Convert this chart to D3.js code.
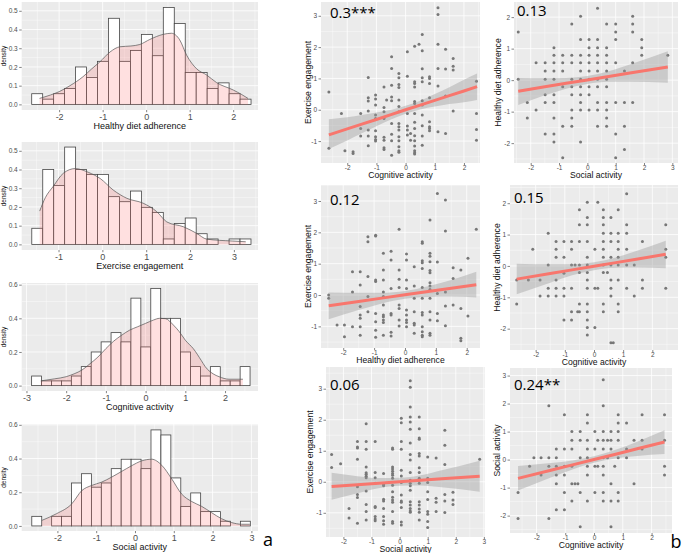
<!DOCTYPE html>
<html>
<head>
<meta charset="utf-8">
<script src="https://cdn.jsdelivr.net/npm/d3@7"></script>
<style>
body{margin:0;background:#fff}
text{font-family:"Liberation Sans",Arial,sans-serif}
</style>
</head>
<body>
<svg id="chart" width="685" height="553"></svg>
<script>
// ---------- histogram data (density per bin) ----------
var dietStart = -2.63, dietWidth = 0.252;
var dietDens = [0.057,0.028,0.057,0.085,0.20,0.144,0.23,0.46,0.23,0.288,0.374,0.26,0.518,0.432,0.17,0.17,0.085,0.115,0.057,0.028];
var dietCurve = [[-2.45,0.032],[-2.2,0.05],[-2.0,0.068],[-1.75,0.1],[-1.45,0.148],[-1.25,0.19],[-1.06,0.228],[-0.83,0.28],[-0.6,0.308],[-0.35,0.312],[-0.145,0.32],[0.085,0.347],[0.39,0.374],[0.58,0.38],[0.77,0.345],[0.93,0.263],[1.16,0.19],[1.39,0.157],[1.62,0.116],[2.0,0.077],[2.2,0.052],[2.34,0.032]];

var exeStart = -1.61, exeWidth = 0.25;
var exeDens = [0.086,0.40,0.314,0.52,0.40,0.374,0.374,0.255,0.228,0.285,0.198,0.171,0.029,0.112,0.141,0.057,0.029,0,0.029,0.029];
var exeCurve = [[-1.43,0.178],[-1.3,0.25],[-1.12,0.31],[-0.89,0.38],[-0.62,0.405],[-0.32,0.385],[-0.05,0.352],[0.25,0.29],[0.56,0.246],[0.93,0.22],[1.24,0.175],[1.47,0.12],[1.85,0.094],[2.15,0.059],[2.38,0.028],[2.96,0.018],[3.27,0.014]];

var cogStart = -2.87, cogWidth = 0.25;
var cogDens = [0.057,0.028,0.028,0.028,0.057,0.113,0.2,0.26,0.315,0.26,0.52,0.23,0.578,0.40,0.40,0.2,0.113,0.057,0.113,0.028,0.028,0.113];
var cogCurve = [[-2.64,0.028],[-2.3,0.04],[-2.0,0.053],[-1.8,0.07],[-1.6,0.093],[-1.4,0.13],[-1.2,0.17],[-1.0,0.22],[-0.8,0.265],[-0.6,0.3],[-0.4,0.33],[-0.2,0.35],[0.0,0.37],[0.2,0.39],[0.35,0.40],[0.5,0.398],[0.7,0.36],[0.85,0.32],[1.0,0.27],[1.2,0.22],[1.4,0.15],[1.5,0.113],[1.7,0.07],[1.85,0.053],[2.1,0.038],[2.45,0.038]];

var socStart = -2.66, socWidth = 0.256;
var socDens = [0.057,0,0.057,0.057,0.255,0.31,0.23,0.255,0.34,0.396,0.396,0.34,0.57,0.54,0.285,0.116,0.196,0.085,0.085,0.028,0,0.028];
var socCurve = [[-2.4,0.033],[-2.02,0.073],[-1.63,0.131],[-1.37,0.21],[-1.12,0.24],[-0.86,0.26],[-0.6,0.29],[-0.34,0.324],[-0.09,0.357],[0.17,0.386],[0.43,0.396],[0.69,0.36],[0.95,0.278],[1.2,0.19],[1.46,0.145],[1.72,0.116],[1.98,0.078],[2.23,0.043],[2.49,0.02],[2.75,0.01],[2.96,0.01]];

// ---------- scatter data: [x, [y values at that x]] ----------
var cogExe = [
  [-2.63,[0.57,-1.23]],[-2.2,[-0.12]],[-2.08,[-1.31]],[-1.8,[-1.34,-1.4]],
  [-1.54,[-0.12,-0.6,-0.84]],
  [-1.28,[1.03,0.38,0.28,-0.04,-0.65,-0.84,-1.15]],
  [-1.03,[0.47,0.34,0.15,-0.17,-0.28,-0.67,-0.86,-0.95,-1.0]],
  [-0.74,[0.73,0.07,-0.06,-0.28,-0.88,-0.97,-1.21,-1.27]],
  [-0.65,[0.31]],
  [-0.48,[1.69,1.32,0.78,0.41,0.29,-0.44,-0.78,-0.99,-1.45]],
  [-0.23,[1.16,1.02,0.81,0.71,0.31,0.1,-0.06,-0.44,-0.54,-0.65,-0.86,-0.99,-1.18,-1.31,-1.36]],
  [0.06,[1.85,1.07,-0.12,-0.52,-0.65,-0.81]],
  [0.17,[-0.76,-0.97]],
  [0.31,[2.03,0.89,0.84,0.73,0.26,0.2,-0.12,-0.4,-0.6,-0.83,-0.99,-1.16,-1.31,-1.37,-1.41]],
  [0.46,[2.09]],
  [0.57,[2.4,1.88,1.31,1.02,0.89,0.29,0.15,-0.17,-0.51,-0.84,-1.13]],
  [0.82,[1.05,1.0,0.84,0.38,-0.38,-0.54,-0.6,-0.67]],
  [1.11,[3.26,3.04,2.09,1.32,0.76,-0.7]],
  [1.37,[1.93,1.3,0.44,-0.76]],
  [1.63,[1.64,1.39,1.27,-0.04]],
  [2.43,[0.91,-0.12,-0.63,-0.97]]
];
var socDiet = [
  [-2.44,[1.53,0.03]],[-2.12,[-0.71,-1.2]],[-1.81,[0.55,-0.95]],
  [-1.49,[0.55,0.29,0.03,-0.46,-0.71,-1.71]],
  [-1.18,[1.03,0.79,0.55,0.29,0.03,-0.46,-0.71,-1.2,-1.71,-1.96]],
  [-0.87,[0.79,0.55,0.29,-0.21,-1.46,-2.46]],
  [-0.55,[1.78,0.79,0.55,0.03,-0.21,-0.46,-0.95,-1.2,-1.46]],
  [-0.24,[2.03,1.29,0.79,0.55,0.29,0.03,-0.21,-0.46,-0.71,-0.95,-1.96]],
  [0.06,[1.29,1.03,0.79,0.55,0.29,0.03,-0.21,-0.46,-0.95]],
  [0.36,[2.28,1.29,1.03,0.79,0.55,0.29,0.03,-0.21,-0.71,-0.95,-1.46]],
  [0.68,[1.78,1.03,0.79,0.55,0.29,0.03,-0.21,-0.71,-0.95,-1.2,-1.46]],
  [1.0,[1.78,1.53,1.29,0.55,-0.71,-1.71,-2.46]],
  [1.31,[0.29,-0.71,-1.46,-2.2]],
  [1.6,[2.03,1.78,1.53,0.55,-0.71]],
  [1.92,[1.29,1.03,0.79]],
  [2.84,[0.79]]
];
var dietExe = [
  [-2.47,[0,-0.1]],[-2.2,[-0.96]],[-1.96,[-0.96,-1.33]],[-1.7,[0.74,0.1,-1.01]],
  [-1.45,[0.74,0.32,-0.37,-0.64,-0.74,-1.01,-1.28]],
  [-1.2,[1.86,1.7,0.59,-0.05,-0.53]],
  [-0.95,[1.91,1.88,0.48,0.43,-0.59,-0.85,-1.12,-1.35]],
  [-0.7,[1.33,0.8,0.48,0.1,-0.05,-0.32,-0.64,-0.69,-0.8,-0.88,-1.28]],
  [-0.45,[1.4,1.12,0.21,-0.59,-0.64,-1.19,-1.31]],
  [-0.19,[2.1,0.8,0.5,0.24,-0.32,-0.43,-0.8,-0.99]],
  [0.05,[1.31,1.12,0.48,0.21,-0.48,-0.64,-0.8,-0.88,-1.01]],
  [0.3,[0.9,0.29,-0.1,-0.53,-0.9,-0.96,-1.22]],
  [0.56,[1.7,1.65,1.09,1.03,0.85,0.24,-0.1,-0.56,-0.64,-1.01,-1.17,-1.28,-1.33]],
  [0.81,[2.39,1.33,1.24,1.06,0.78,0.71,0.39,0.29,0.18,-0.1,-0.53,-0.8,-1.22,-1.28]],
  [1.05,[3.24,1.05,0.05,-0.59,-0.82]],
  [1.31,[3.03,2.04,0.1,-0.35,-0.98]],
  [1.56,[0.87,0.53,-0.32]],
  [1.81,[0.8,-0.43,-1.38,-1.46]],
  [2.04,[1.17,-0.67]],
  [2.31,[2.1]]
];
var cogDiet = [
  [-2.65,[-0.45,-1.21]],[-2.25,[-0.45]],[-2.1,[0.53]],[-1.85,[-0.45,-0.96]],
  [-1.57,[1.04,0.03,-0.71,-0.96]],
  [-1.3,[0.78,0.53,0.28,-0.45,-0.71,-0.96]],
  [-1.03,[0.78,0.28,-0.23,-0.71,-0.96,-1.72]],
  [-0.77,[0.78,0.53,0.03,-0.71,-1.46,-1.72]],
  [-0.65,[0.03]],[-0.56,[-1.46]],
  [-0.5,[1.79,1.31,0.78,0.03,-0.21,-1.21,-1.46]],
  [-0.23,[2.03,1.54,1.31,0.78,0.28,0.03,-0.21,-0.45,-0.71,-1.21,-1.46,-1.72,-1.96,-2.2]],
  [0.03,[0.53,-0.71,-1.96]],[0.13,[2.03,-0.71]],
  [0.32,[1.79,1.54,1.31,1.04,0.78,0.53,0.28,0.03,-0.21,-1.21,-1.46]],
  [0.46,[-0.21]],
  [0.58,[1.54,1.04,0.78,0.28,0.03,-0.45,-0.71,-0.96,-2.45]],
  [0.66,[-2.45]],
  [0.83,[1.79,1.04,0.78,0.53,0.28,0.03,-0.45,-1.21,-1.46]],
  [1.12,[2.3,1.31,1.04,0.53,0.03,-0.71]],
  [1.38,[0.03,-0.96]],
  [1.66,[0.78,-0.45,-0.71]],
  [2.46,[1.31,0.53,0.28,-0.71]]
];
var socExe = [
  [-2.42,[0.88,0.46]],[-2.1,[0.58]],[-1.8,[-0.86,-1.17]],
  [-1.5,[1.3,1.12,1.09,0.73,-0.16,-0.41,-0.51,-1.34]],
  [-1.19,[1.87,1.3,1.05,0.48,0.29,0.24,0.18,0.13,-0.3,-0.73,-0.96,-1.23]],
  [-0.87,[1.3,0.3,0.13,-0.05,-0.8,-0.83,-1.12,-1.2,-1.26]],
  [-0.57,[0.27,-0.09,-0.13,-0.56,-0.62,-0.86,-1.12,-1.26,-1.37]],
  [-0.25,[1.09,1.05,0.48,0.41,0.34,0.27,0.21,0.11,-0.11,-0.32,-0.5,-0.59,-0.66,-0.96,-1.28,-1.34]],
  [0.06,[2.05,1.9,1.3,1.05,0.37,0.19,-0.02,-0.43,-0.62,-0.66,-0.83,-1.3,-1.39]],
  [0.38,[3.26,3.05,2.41,2.09,1.93,1.69,1.25,0.88,0.7,0.3,0.05,-0.05,-0.13,-0.27,-0.64,-0.75,-0.86,-0.94,-0.98]],
  [0.7,[2.09,1.71,1.41,1.37,0.91,0.83,0.45,0.3,0.11,0.05,-0.05,-0.64,-0.75,-0.88,-0.98,-1.23]],
  [1.0,[0.8,0.11,-0.02,-0.32,-0.57,-0.96,-1.05,-1.28,-1.47]],
  [1.3,[0.77,-0.53,-0.66,-0.96]],
  [1.61,[1.66,1.18,0.56,-0.41,-0.62,-0.99]],
  [1.9,[-0.34,-0.59,-0.73]],
  [2.85,[0.73]]
];
var cogSoc = [
  [-2.64,[-1.17,-2.1]],[-2.24,[-0.24]],[-2.09,[0.07]],[-1.84,[0.07,-0.55]],
  [-1.57,[1.92,0.07,-0.24,-2.1]],
  [-1.31,[0.38,0.07,-0.24,-0.55,-0.86,-1.79]],
  [-1.03,[1.6,0.38,-0.24,-0.55,-1.17,-1.79]],
  [-0.77,[1.0,0.69,0.38,-0.24,-0.86,-1.48]],
  [-0.66,[-0.86]],[-0.56,[-0.86]],
  [-0.48,[1.0,0.69,0.07,-1.17,-2.4]],
  [-0.23,[1.6,1.31,0.69,0.38,0.07,-0.24,-0.55,-1.48]],
  [0.03,[1.0,0.38,-0.24,-1.17]],[0.13,[0.69,-0.24]],
  [0.32,[2.85,1.92,1.0,0.69,0.38,0.07,-0.24,-0.55,-1.17,-1.48]],
  [0.47,[0.69,0.07]],
  [0.59,[1.0,0.69,0.38,-0.86,-1.48,-2.4]],
  [0.72,[-0.24]],
  [0.84,[1.6,1.31,1.0,0.69,0.07,-1.17,-1.48]],
  [1.13,[1.31,0.38,0.07]],
  [1.39,[0.69,-0.86]],
  [1.67,[1.6,0.69,0.38]],
  [2.45,[1.6,0.69,-0.24,-0.55]]
];

// fitted line with confidence band: [x, fit, lower, upper]
var cogExeFit  = [[-2.63,-0.8,-1.25,-0.3],[-2,-0.61,-0.98,-0.24],[-1.5,-0.46,-0.75,-0.17],[-1,-0.31,-0.53,-0.09],[-0.5,-0.155,-0.31,0.0],[0,0,-0.13,0.13],[0.5,0.15,0.01,0.29],[1,0.3,0.1,0.5],[1.5,0.45,0.18,0.72],[2,0.6,0.24,0.96],[2.45,0.74,0.31,1.16]];
var socDietFit = [[-2.44,-0.35,-0.79,0.07],[-1.5,-0.21,-0.48,0.06],[-0.75,-0.1,-0.27,0.07],[0,0.006,-0.12,0.13],[0.75,0.116,-0.05,0.28],[1.5,0.225,-0.05,0.5],[2.84,0.42,-0.08,0.92]];
var dietExeFit = [[-2.47,-0.34,-0.77,0.08],[-1.5,-0.204,-0.48,0.07],[-0.75,-0.099,-0.27,0.07],[0,0.006,-0.12,0.13],[0.75,0.111,-0.06,0.28],[1.5,0.216,-0.05,0.48],[2.31,0.33,-0.08,0.74]];
var cogDietFit = [[-2.65,-0.42,-0.9,0.07],[-1.5,-0.243,-0.54,0.05],[-0.75,-0.126,-0.3,0.05],[0,-0.01,-0.14,0.12],[0.75,0.106,-0.06,0.27],[1.5,0.22,-0.05,0.49],[2.46,0.37,-0.07,0.8]];
var socExeFit  = [[-2.42,-0.15,-0.58,0.29],[-1.5,-0.092,-0.37,0.18],[-0.75,-0.045,-0.21,0.12],[0,0,-0.13,0.13],[0.75,0.047,-0.12,0.21],[1.5,0.095,-0.18,0.37],[2.85,0.18,-0.32,0.68]];
var cogSocFit  = [[-2.64,-0.67,-1.1,-0.23],[-1.5,-0.38,-0.64,-0.12],[-0.75,-0.188,-0.35,-0.03],[0,0.003,-0.11,0.12],[0.75,0.194,0.04,0.35],[1.5,0.385,0.13,0.64],[2.45,0.63,0.2,1.05]];

var svg = d3.select("#chart");

function minorOf(ticks, dom){
	var step = ticks[1] - ticks[0];
	var out = [ticks[0] - step/2];
	ticks.forEach(function(t){ out.push(t + step/2); });
	return out.filter(function(v){ return v > dom[0] && v < dom[1]; });
}

function panel(g, p, x, y){
	g.append("rect")
		.attr("x", p.l).attr("y", p.t)
		.attr("width", p.r - p.l).attr("height", p.b - p.t)
		.attr("fill", "#EBEBEB");
	var xm = minorOf(p.xt, p.xd), ym = minorOf(p.yt, p.yd);
	g.selectAll("line.xm").data(xm).enter().append("line")
		.attr("x1", d => x(d)).attr("x2", d => x(d)).attr("y1", p.t).attr("y2", p.b)
		.attr("stroke", "#fff").attr("stroke-width", 0.4);
	g.selectAll("line.ym").data(ym).enter().append("line")
		.attr("y1", d => y(d)).attr("y2", d => y(d)).attr("x1", p.l).attr("x2", p.r)
		.attr("stroke", "#fff").attr("stroke-width", 0.4);
	g.selectAll("line.xg").data(p.xt).enter().append("line")
		.attr("x1", d => x(d)).attr("x2", d => x(d)).attr("y1", p.t).attr("y2", p.b)
		.attr("stroke", "#fff").attr("stroke-width", 0.8);
	g.selectAll("line.yg").data(p.yt).enter().append("line")
		.attr("y1", d => y(d)).attr("y2", d => y(d)).attr("x1", p.l).attr("x2", p.r)
		.attr("stroke", "#fff").attr("stroke-width", 0.8);
}

function axes(g, p, x, y, xfs, yfs, yfmt, xpad){
	var ax = g.append("g").attr("transform", "translate(0," + p.b + ")")
		.call(d3.axisBottom(x).tickValues(p.xt).tickSize(2.2).tickPadding(xpad).tickFormat(d => String(d)));
	var ay = g.append("g").attr("transform", "translate(" + p.l + ",0)")
		.call(d3.axisLeft(y).tickValues(p.yt).tickSize(2.5).tickPadding(1.5).tickFormat(yfmt));
	[ax, ay].forEach(function(a){
		a.select(".domain").remove();
		a.selectAll("line").attr("stroke", "#333").attr("stroke-width", 0.6);
		a.selectAll("text").attr("fill", "#4D4D4D").style("font-family", "Liberation Sans, Arial, sans-serif");
	});
	ax.selectAll("text").style("font-size", xfs + "px");
	ay.selectAll("text").style("font-size", yfs + "px");
}

function drawHist(h){
	var x = d3.scaleLinear().domain(h.xd).range([h.l, h.r]);
	var y = d3.scaleLinear().domain(h.yd).range([h.b, h.t]);
	var g = svg.append("g");
	panel(g, h, x, y);

	var bins = h.dens.map(function(d, i){
		return {x0: h.start + i*h.width, x1: h.start + (i+1)*h.width, v: d};
	});
	g.selectAll("rect.bar").data(bins).enter().append("rect")
		.attr("x", d => x(d.x0))
		.attr("width", d => x(d.x1) - x(d.x0))
		.attr("y", d => y(d.v))
		.attr("height", d => y(0) - y(d.v))
		.attr("fill", "#fff")
		.attr("stroke", "#444")
		.attr("stroke-width", 0.8);

	var area = d3.area().x(d => x(d[0])).y0(y(0)).y1(d => y(d[1])).curve(d3.curveMonotoneX);
	var line = d3.line().x(d => x(d[0])).y(d => y(d[1])).curve(d3.curveMonotoneX);
	g.append("path").datum(h.curve).attr("d", area)
		.attr("fill", "#FF6666").attr("fill-opacity", 0.2);
	g.append("path").datum(h.curve).attr("d", line)
		.attr("fill", "none").attr("stroke", "#555").attr("stroke-width", 0.7);

	axes(g, h, x, y, 9, 6.5, d3.format(".1f"), 1.5);

	g.append("text").attr("x", (h.l + h.r)/2).attr("y", h.b + 19)
		.attr("text-anchor", "middle").style("font-size", "9px").attr("fill", "#111")
		.text(h.title);
	g.append("text").attr("transform", "translate(6," + ((h.t + h.b)/2) + ") rotate(-90)")
		.attr("text-anchor", "middle").style("font-size", "6.5px").attr("fill", "#111")
		.text("density");
}

function drawScatter(p){
	var x = d3.scaleLinear().domain(p.xd).range([p.l, p.r]);
	var y = d3.scaleLinear().domain(p.yd).range([p.b, p.t]);
	var g = svg.append("g");
	panel(g, p, x, y);

	var pts = [];
	p.data.forEach(function(c){
		c[1].forEach(function(v){ pts.push([c[0], v]); });
	});
	g.selectAll("circle").data(pts).enter().append("circle")
		.attr("cx", d => x(d[0])).attr("cy", d => y(d[1])).attr("r", 1.5)
		.attr("fill", "#777");

	var band = d3.area().x(d => x(d[0])).y0(d => y(d[2])).y1(d => y(d[3])).curve(d3.curveMonotoneX);
	g.append("path").datum(p.fit).attr("d", band)
		.attr("fill", "#999").attr("fill-opacity", 0.4);
	var fl = d3.line().x(d => x(d[0])).y(d => y(d[1]));
	g.append("path").datum(p.fit).attr("d", fl)
		.attr("fill", "none").attr("stroke", "#F8766D").attr("stroke-width", 3);

	axes(g, p, x, y, 6.5, 6.5, d => String(d), 0.6);

	g.append("text").attr("x", (p.l + p.r)/2).attr("y", p.b + 15)
		.attr("text-anchor", "middle").style("font-size", "8.6px").attr("fill", "#111")
		.text(p.xTitle);
	g.append("text").attr("transform", "translate(" + p.yx + "," + ((p.t + p.b)/2) + ") rotate(-90)")
		.attr("text-anchor", "middle").attr("dy", "0.35em").style("font-size", "8.6px").attr("fill", "#111")
		.text(p.yTitle);
	g.append("text").attr("x", p.sx).attr("y", p.sy)
		.style("font-family", "Open Sans, sans-serif").style("font-size", "15px").attr("fill", "#000")
		.text(p.stat);
}

var hists = [
	{l:21.7, r:258, t:2, b:110, xd:[-2.86,2.57], yd:[-0.03,0.547], xt:[-2,-1,0,1,2], yt:[0,0.1,0.2,0.3,0.4,0.5],
	 start:dietStart, width:dietWidth, dens:dietDens, curve:dietCurve, title:"Healthy diet adherence"},
	{l:21.7, r:258, t:142, b:250, xd:[-1.84,3.55], yd:[-0.03,0.547], xt:[-1,0,1,2,3], yt:[0,0.1,0.2,0.3,0.4,0.5],
	 start:exeStart, width:exeWidth, dens:exeDens, curve:exeCurve, title:"Exercise engagement"},
	{l:21.7, r:258, t:283, b:391, xd:[-3.12,2.83], yd:[-0.032,0.61], xt:[-3,-2,-1,0,1,2], yt:[0,0.2,0.4,0.6],
	 start:cogStart, width:cogWidth, dens:cogDens, curve:cogCurve, title:"Cognitive activity"},
	{l:21.7, r:258, t:424, b:531, xd:[-2.92,3.17], yd:[-0.03,0.605], xt:[-2,-1,0,1,2,3], yt:[0,0.2,0.4,0.6],
	 start:socStart, width:socWidth, dens:socDens, curve:socCurve, title:"Social activity"}
];
hists.forEach(drawHist);

var scatters = [
	{l:321, r:480, t:2, b:163, xd:[-2.9,2.55], yd:[-1.7,3.44], xt:[-2,-1,0,1,2], yt:[-1,0,1,2,3],
	 data:cogExe, fit:cogExeFit, xTitle:"Cognitive activity", yTitle:"Exercise engagement", yx:308, stat:"0.3***", sx:330, sy:18},
	{l:514, r:678, t:2, b:163, xd:[-2.59,3.2], yd:[-2.63,2.48], xt:[-2,-1,0,1,2,3], yt:[-2,-1,0,1,2],
	 data:socDiet, fit:socDietFit, xTitle:"Social activity", yTitle:"Healthy diet adherence", yx:498, stat:"0.13", sx:517, sy:16},
	{l:321, r:480, t:185, b:348, xd:[-2.72,2.43], yd:[-1.69,3.51], xt:[-2,-1,0,1,2], yt:[-1,0,1,2,3],
	 data:dietExe, fit:dietExeFit, xTitle:"Healthy diet adherence", yTitle:"Exercise engagement", yx:308, stat:"0.12", sx:330, sy:205},
	{l:510, r:678, t:185, b:350, xd:[-2.88,2.88], yd:[-2.68,2.58], xt:[-2,-1,0,1,2], yt:[-2,-1,0,1,2],
	 data:cogDiet, fit:cogDietFit, xTitle:"Cognitive activity", yTitle:"Healthy diet adherence", yx:497, stat:"0.15", sx:514, sy:203},
	{l:326, r:485, t:367, b:537, xd:[-2.62,3.04], yd:[-1.78,3.7], xt:[-2,-1,0,1,2,3], yt:[-1,0,1,2,3],
	 data:socExe, fit:socExeFit, xTitle:"Social activity", yTitle:"Exercise engagement", yx:310, stat:"0.06", sx:330, sy:390},
	{l:510, r:672, t:368, b:533, xd:[-2.92,2.71], yd:[-2.62,3.27], xt:[-2,-1,0,1,2], yt:[-2,-1,0,1,2,3],
	 data:cogSoc, fit:cogSocFit, xTitle:"Cognitive activity", yTitle:"Social activity", yx:497, stat:"0.24**", sx:514, sy:390}
];
scatters.forEach(drawScatter);

svg.append("text").attr("x", 268).attr("y", 546).attr("text-anchor", "middle")
	.style("font-family", "Open Sans, sans-serif").style("font-size", "18px").text("a");
svg.append("text").attr("x", 676).attr("y", 548).attr("text-anchor", "middle")
	.style("font-family", "Open Sans, sans-serif").style("font-size", "18px").text("b");
</script>
</body>
</html>
